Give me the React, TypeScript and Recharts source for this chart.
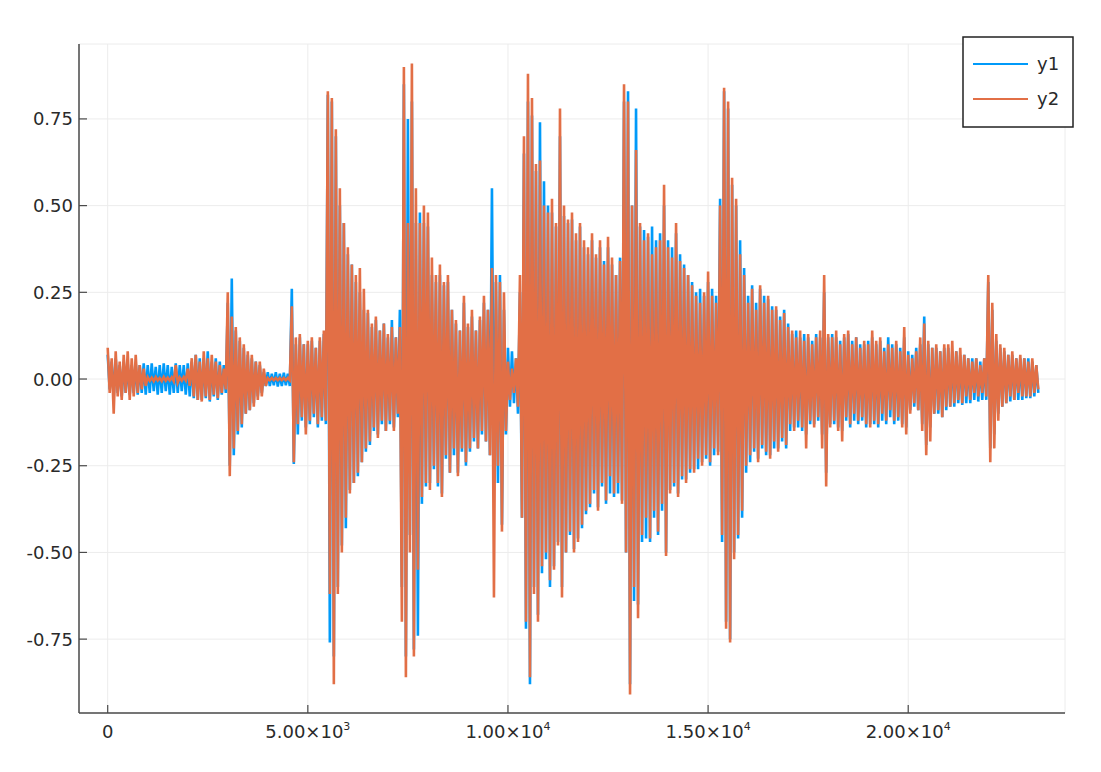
import React from "react";
import { LineChart, Line, XAxis, YAxis, CartesianGrid, Legend } from "recharts";

// one sample pair (peak, trough) every 100 x-units
const STEP = 100;

const y1Hi = [
  0.07, 0.05, 0.06, 0.04, 0.05, 0.045, 0.04, 0.045, 0.04, 0.045,
  0.04, 0.045, 0.035, 0.04, 0.045, 0.04, 0.035, 0.045, 0.04, 0.04,
  0.045, 0.05, 0.07, 0.06, 0.06, 0.08, 0.05, 0.06, 0.05, 0.04,
  0.22, 0.29, 0.14, 0.11, 0.09, 0.07, 0.06, 0.05, 0.04, 0.02,
  0.02, 0.015, 0.02, 0.015, 0.018, 0.015, 0.26, 0.1, 0.12, 0.1,
  0.1, 0.11, 0.09, 0.11, 0.13, 0.82, 0.8, 0.7, 0.5, 0.45,
  0.36, 0.33, 0.28, 0.25, 0.2, 0.19, 0.15, 0.17, 0.14, 0.16,
  0.12, 0.17, 0.12, 0.2, 0.85, 0.75, 0.8, 0.45, 0.48, 0.45,
  0.44, 0.3, 0.28, 0.3, 0.27, 0.28, 0.2, 0.16, 0.14, 0.22,
  0.15, 0.18, 0.14, 0.17, 0.22, 0.2, 0.55, 0.28, 0.3, 0.2,
  0.09, 0.08, 0.06, 0.25, 0.65, 0.8, 0.76, 0.6, 0.74, 0.57,
  0.5, 0.48, 0.44, 0.7, 0.47, 0.45, 0.46, 0.4, 0.44, 0.38,
  0.36, 0.4, 0.35, 0.38, 0.34, 0.38, 0.33, 0.3, 0.35, 0.8,
  0.83, 0.5, 0.78, 0.44, 0.43, 0.41, 0.44, 0.4, 0.42, 0.5,
  0.4, 0.38, 0.42, 0.36, 0.33, 0.3, 0.28, 0.25, 0.26, 0.24,
  0.28, 0.26, 0.24, 0.52, 0.83, 0.78, 0.56, 0.5, 0.4, 0.32,
  0.24, 0.27, 0.22, 0.26, 0.24, 0.23, 0.21, 0.2, 0.18, 0.2,
  0.16, 0.13, 0.14, 0.12, 0.13, 0.12, 0.11, 0.13, 0.12, 0.25,
  0.12, 0.13, 0.12, 0.11, 0.12, 0.13, 0.11, 0.12, 0.1, 0.1,
  0.11, 0.12, 0.1, 0.11, 0.09, 0.12, 0.1, 0.1, 0.09, 0.12,
  0.08, 0.07, 0.09, 0.1, 0.18, 0.1, 0.09, 0.09, 0.08, 0.09,
  0.09, 0.08, 0.08, 0.07, 0.07, 0.06, 0.06, 0.06, 0.05, 0.06,
  0.28, 0.2, 0.11, 0.09, 0.08, 0.07, 0.07, 0.06, 0.06, 0.06,
  0.06, 0.05, 0.04,
];

const y1Lo = [
  -0.03, -0.05, -0.04, -0.05, -0.04, -0.045, -0.04, -0.045, -0.04, -0.045,
  -0.04, -0.035, -0.045, -0.04, -0.035, -0.045, -0.04, -0.04, -0.035, -0.045,
  -0.05, -0.055, -0.06, -0.06, -0.055, -0.065, -0.05, -0.06, -0.045, -0.04,
  -0.25, -0.22, -0.16, -0.14, -0.1, -0.09, -0.07, -0.05, -0.04, -0.02,
  -0.02, -0.018, -0.022, -0.02, -0.018, -0.02, -0.245, -0.16, -0.12, -0.14,
  -0.13, -0.11, -0.14, -0.12, -0.13, -0.76, -0.8, -0.6, -0.48, -0.43,
  -0.32, -0.3, -0.28, -0.24, -0.21, -0.19, -0.15, -0.16, -0.13, -0.15,
  -0.13, -0.14, -0.11, -0.6, -0.8, -0.45, -0.78, -0.74, -0.36, -0.31,
  -0.3, -0.26, -0.31, -0.33, -0.23, -0.27, -0.22, -0.27, -0.21, -0.25,
  -0.21, -0.18, -0.2, -0.16, -0.18, -0.22, -0.3, -0.3, -0.42, -0.16,
  -0.08, -0.07, -0.1, -0.4, -0.72, -0.88, -0.6, -0.68, -0.56, -0.52,
  -0.6, -0.54, -0.47, -0.6, -0.5, -0.45, -0.49, -0.46, -0.43, -0.39,
  -0.37, -0.33, -0.37, -0.31, -0.36, -0.33, -0.34, -0.33, -0.35, -0.5,
  -0.88, -0.64, -0.65, -0.47, -0.46, -0.47, -0.4, -0.45, -0.38, -0.5,
  -0.32, -0.31, -0.33, -0.29, -0.29, -0.27, -0.26, -0.26, -0.24, -0.23,
  -0.25, -0.22, -0.21, -0.47, -0.7, -0.75, -0.5, -0.46, -0.4, -0.27,
  -0.24, -0.21, -0.23, -0.2, -0.22, -0.22, -0.2, -0.2, -0.18, -0.2,
  -0.15, -0.14, -0.14, -0.15, -0.16, -0.13, -0.13, -0.12, -0.16, -0.27,
  -0.13, -0.13, -0.14, -0.15, -0.12, -0.14, -0.12, -0.13, -0.12, -0.14,
  -0.13, -0.13, -0.14, -0.12, -0.13, -0.11, -0.13, -0.12, -0.13, -0.14,
  -0.09, -0.08, -0.09, -0.13, -0.19, -0.14, -0.1, -0.1, -0.11, -0.09,
  -0.08, -0.08, -0.07, -0.075, -0.07, -0.07, -0.06, -0.065, -0.06, -0.06,
  -0.2, -0.16, -0.1, -0.08, -0.07, -0.065, -0.06, -0.06, -0.06, -0.055,
  -0.055, -0.05, -0.04,
];

const y2Hi = [
  0.09, 0.06, 0.08, 0.05, 0.07, 0.08, 0.06, 0.07, 0.04, 0.03,
  0.005, 0.004, 0.006, 0.003, 0.006, 0.004, 0.005, 0.04, 0.004, 0.006,
  0.03, 0.06, 0.07, 0.05, 0.08, 0.06, 0.07, 0.05, 0.04, 0.03,
  0.25, 0.18, 0.15, 0.12, 0.1, 0.08, 0.07, 0.05, 0.05, 0.03,
  0.003, 0.003, 0.003, 0.003, 0.003, 0.003, 0.21, 0.12, 0.13, 0.1,
  0.11, 0.12, 0.09, 0.12, 0.14, 0.83, 0.81, 0.72, 0.55, 0.45,
  0.38, 0.33, 0.3, 0.32, 0.26, 0.2, 0.16, 0.18, 0.14, 0.16,
  0.13, 0.15, 0.12, 0.15, 0.9, 0.45, 0.91, 0.55, 0.45, 0.5,
  0.48, 0.35, 0.3, 0.33, 0.28, 0.3, 0.2, 0.17, 0.14, 0.24,
  0.16, 0.2, 0.14, 0.18, 0.24, 0.2, 0.32, 0.3, 0.28, 0.25,
  0.05, 0.03, 0.06, 0.3, 0.7, 0.88, 0.81, 0.62, 0.63, 0.5,
  0.48, 0.52, 0.45, 0.78, 0.5, 0.46, 0.48, 0.42, 0.45, 0.4,
  0.38, 0.42, 0.36, 0.4, 0.33, 0.41, 0.35, 0.3, 0.34, 0.85,
  0.8, 0.5, 0.66, 0.45, 0.4, 0.42, 0.36, 0.38, 0.4, 0.56,
  0.38, 0.35, 0.45, 0.34, 0.32, 0.3, 0.27, 0.24, 0.22, 0.25,
  0.31, 0.24, 0.22, 0.5, 0.84, 0.8, 0.58, 0.52, 0.36, 0.3,
  0.22, 0.26, 0.2, 0.27, 0.22, 0.24, 0.2, 0.21, 0.17, 0.19,
  0.15, 0.14, 0.12, 0.14, 0.11, 0.13, 0.1, 0.12, 0.14, 0.3,
  0.13, 0.12, 0.14, 0.1, 0.13, 0.14, 0.1, 0.12, 0.09, 0.11,
  0.1, 0.14, 0.11, 0.12, 0.08, 0.1, 0.09, 0.11, 0.08, 0.15,
  0.07, 0.06, 0.08, 0.12, 0.16, 0.11, 0.09, 0.1, 0.08, 0.1,
  0.1, 0.11, 0.08, 0.09, 0.07, 0.06, 0.05, 0.06, 0.04, 0.06,
  0.3, 0.22, 0.13, 0.1, 0.09, 0.07, 0.08, 0.06, 0.07, 0.06,
  0.05, 0.06, 0.04,
];

const y2Lo = [
  -0.04, -0.1, -0.05, -0.06, -0.04, -0.06, -0.05, -0.04, -0.03, -0.02,
  -0.005, -0.006, -0.004, -0.006, -0.005, -0.004, -0.006, -0.01, -0.005, -0.004,
  -0.02, -0.05, -0.06, -0.065, -0.05, -0.06, -0.045, -0.055, -0.04, -0.03,
  -0.28, -0.2, -0.15, -0.13, -0.1, -0.09, -0.08, -0.06, -0.05, -0.02,
  -0.003, -0.003, -0.003, -0.003, -0.003, -0.003, -0.24, -0.13, -0.11, -0.16,
  -0.12, -0.1, -0.13, -0.11, -0.12, -0.62, -0.88, -0.62, -0.5, -0.4,
  -0.33, -0.3, -0.27, -0.24, -0.2, -0.18, -0.14, -0.17, -0.12, -0.15,
  -0.12, -0.15, -0.1, -0.7, -0.86, -0.5, -0.8, -0.55, -0.34, -0.3,
  -0.32, -0.25, -0.3, -0.34, -0.22, -0.27, -0.2, -0.28, -0.2, -0.24,
  -0.2, -0.17, -0.2, -0.15, -0.18, -0.22, -0.63, -0.25, -0.44, -0.15,
  -0.06, -0.04, -0.08, -0.4, -0.7, -0.86, -0.62, -0.7, -0.54, -0.5,
  -0.58, -0.55, -0.48, -0.63, -0.5, -0.44, -0.5, -0.47, -0.42, -0.38,
  -0.36, -0.32, -0.38, -0.3, -0.35, -0.28, -0.33, -0.3, -0.36, -0.5,
  -0.91, -0.6, -0.69, -0.45, -0.4, -0.46, -0.38, -0.44, -0.36, -0.51,
  -0.33, -0.3, -0.34, -0.28, -0.3, -0.26, -0.27, -0.23, -0.25, -0.22,
  -0.24, -0.2, -0.22, -0.45, -0.72, -0.76, -0.52, -0.45, -0.38, -0.25,
  -0.22, -0.2, -0.24, -0.19, -0.21, -0.23, -0.18, -0.21, -0.17, -0.19,
  -0.13, -0.15, -0.12, -0.14, -0.2, -0.12, -0.14, -0.11, -0.2, -0.31,
  -0.14, -0.12, -0.15, -0.18, -0.11, -0.13, -0.1, -0.12, -0.11, -0.13,
  -0.14, -0.12, -0.13, -0.1, -0.12, -0.09, -0.12, -0.11, -0.14, -0.16,
  -0.1, -0.07, -0.09, -0.15, -0.22, -0.18, -0.1, -0.09, -0.11, -0.08,
  -0.08, -0.07, -0.06, -0.07, -0.05, -0.06, -0.04, -0.05, -0.04, -0.05,
  -0.24, -0.2, -0.12, -0.08, -0.07, -0.05, -0.06, -0.04, -0.05, -0.05,
  -0.05, -0.04, -0.03,
];

const xTicks = [0, 5000, 10000, 15000, 20000];
const xTickText = ["0", "5.00×10", "1.00×10", "1.50×10", "2.00×10"];
const xTickExp = ["", "3", "4", "4", "4"];
const yTicks = [-0.75, -0.5, -0.25, 0, 0.25, 0.5, 0.75];

const BLUE = "#009af9";
const ORANGE = "#e26f46";
const AXIS = "#4a4a4a";
const TEXT = "#2a2a2a";
const FONT = "DejaVu Sans, sans-serif";

const data: { x: number; y1: number; y2: number }[] = [];
y1Hi.forEach((_, k) => {
  data.push({ x: k * STEP, y1: y1Hi[k], y2: y2Hi[k] });
  data.push({ x: k * STEP + STEP / 2, y1: y1Lo[k], y2: y2Lo[k] });
});

const XTick = (props: any) => {
  const { x, y, payload } = props;
  const i = xTicks.indexOf(payload.value);
  return (
    <g>
      <line x1={x} y1={y} x2={x} y2={y - 8} stroke={AXIS} strokeWidth={1.2} />
      <text x={x} y={y + 25} textAnchor="middle" fontFamily={FONT} fontSize={18} fill={TEXT}>
        {xTickText[i]}
        {xTickExp[i] ? (
          <tspan dy={-8} fontSize={11}>
            {xTickExp[i]}
          </tspan>
        ) : null}
      </text>
    </g>
  );
};

const YTick = (props: any) => {
  const { x, y, payload } = props;
  return (
    <g>
      <line x1={x} y1={y} x2={x + 8} y2={y} stroke={AXIS} strokeWidth={1.2} />
      <text x={x - 6} y={y} dy="0.36em" textAnchor="end" fontFamily={FONT} fontSize={18} fill={TEXT}>
        {payload.value.toFixed(2)}
      </text>
    </g>
  );
};

const renderLegend = (props: any) => {
  const items = props.payload || [];
  return (
    <svg width={112} height={92}>
      <rect x={1} y={1} width={110} height={90} fill="#fff" stroke="#222" strokeWidth={1.5} />
      {items.map((it: any, i: number) => (
        <g key={it.value}>
          <line x1={11} x2={66} y1={28 + i * 35} y2={28 + i * 35} stroke={it.color} strokeWidth={2} />
          <text x={75} y={28 + i * 35} dy="0.36em" fontFamily={FONT} fontSize={18} fill={TEXT}>
            {it.value}
          </text>
        </g>
      ))}
    </svg>
  );
};

export default function App() {
  return (
    <LineChart
      width={1085}
      height={760}
      data={data}
      margin={{ top: 36, right: 28, left: 0, bottom: 0 }}
    >
      <CartesianGrid stroke="#ececec" strokeWidth={1} />
      <XAxis
        dataKey="x"
        type="number"
        domain={[-717, 23917]}
        allowDataOverflow
        ticks={xTicks}
        interval={0}
        height={55}
        tickSize={0}
        tickMargin={0}
        tickLine={false}
        tick={<XTick />}
        axisLine={{ stroke: AXIS, strokeWidth: 1.5 }}
      />
      <YAxis
        type="number"
        domain={[-0.963, 0.966]}
        allowDataOverflow
        ticks={yTicks}
        interval={0}
        width={71}
        tickSize={0}
        tickMargin={0}
        tickLine={false}
        tick={<YTick />}
        axisLine={{ stroke: AXIS, strokeWidth: 1.5 }}
      />
      <Legend
        layout="horizontal"
        verticalAlign="middle"
        align="center"
        content={renderLegend}
        wrapperStyle={{ left: 954, top: 28, width: 112, height: 92 }}
      />
      <Line
        type="linear"
        dataKey="y1"
        name="y1"
        stroke={BLUE}
        strokeWidth={2.6}
        dot={false}
        isAnimationActive={false}
      />
      <Line
        type="linear"
        dataKey="y2"
        name="y2"
        stroke={ORANGE}
        strokeWidth={2.6}
        dot={false}
        isAnimationActive={false}
      />
    </LineChart>
  );
}
